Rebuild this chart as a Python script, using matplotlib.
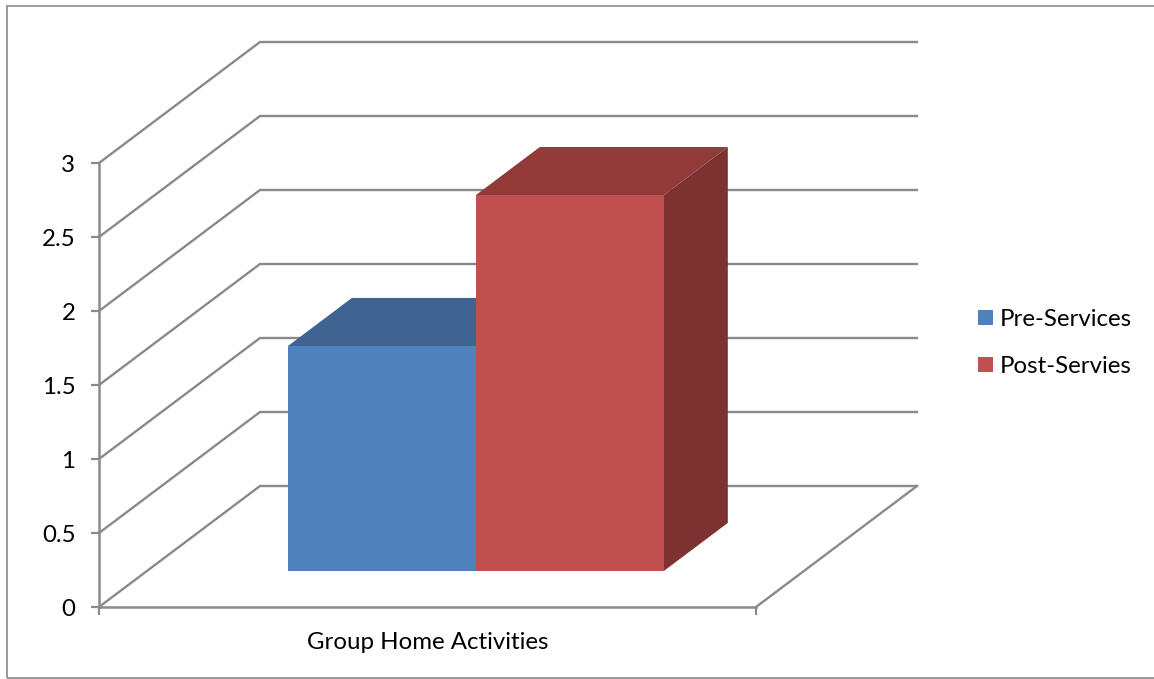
import matplotlib
matplotlib.use('Agg')
import matplotlib.pyplot as plt
from matplotlib.patches import Polygon, Patch, Rectangle

plt.rcParams['font.family'] = ['Lato', 'DejaVu Sans']

category = 'Group Home Activities'
series = ['Pre-Services', 'Post-Servies']
values = [1.52, 2.54]
colors = ['#4F81BD', '#C0504D']
top_colors = ['#3F6492', '#923A38']
side_colors = ['#375A85', '#7D3230']
y_ticks = [0, 0.5, 1, 1.5, 2, 2.5, 3]
y_labels = ['0', '0.5', '1', '1.5', '2', '2.5', '3']

W, H = 1154, 679
GREY = '#8A8A8A'
FS = 17.3

# oblique projection, depth 1 = back wall
DX = 161 / 657
DY = 121 / 148


def project(x, v, d):
    return x + d * DX, v + d * DY


fig = plt.figure(figsize=(W / 100, H / 100), dpi=100)
ax = fig.add_axes([99 / W, 1 - 607 / H, 657 / W, 444 / H])
ax.set_xlim(0, 1)
ax.set_ylim(0, 3)
ax.patch.set_visible(False)
for s in ax.spines.values():
    s.set_visible(False)
ax.spines['left'].set_visible(True)
ax.spines['bottom'].set_visible(True)
for k in ('left', 'bottom'):
    ax.spines[k].set_color(GREY)
    ax.spines[k].set_linewidth(1.8)

ax.set_yticks(y_ticks)
ax.set_yticklabels(y_labels)
ax.set_xticks([0, 1])
ax.set_xticklabels(['', ''])
ax.tick_params(axis='y', length=6, width=1.6, color=GREY, labelsize=FS, pad=11, labelcolor='black')
ax.tick_params(axis='x', length=6, width=1.6, color=GREY)
ax.text(0.5, -0.08, category, transform=ax.transAxes, fontsize=FS, ha='center', va='center', color='black')

# walls
for v in y_ticks:
    xb, yb = project(0, v, 1)
    xe, ye = project(1, v, 1)
    ax.plot([0, xb, xe], [v, yb, ye], color=GREY, lw=1.7, clip_on=False, zorder=1,
            solid_joinstyle='miter')
xb, yb = project(1, 0, 1)
ax.plot([1, xb], [0, yb], color=GREY, lw=1.7, clip_on=False, zorder=1)

# bars
bar_left = 0.2146
bar_w = 0.2861
d_front = 0.2975
d_back = 0.695
for i, v in enumerate(values):
    x0 = bar_left + i * bar_w
    x1 = x0 + bar_w
    front = [project(x0, 0, d_front), project(x1, 0, d_front), project(x1, v, d_front), project(x0, v, d_front)]
    top = [project(x0, v, d_front), project(x1, v, d_front), project(x1, v, d_back), project(x0, v, d_back)]
    side = [project(x1, 0, d_front), project(x1, 0, d_back), project(x1, v, d_back), project(x1, v, d_front)]
    z = 2 + i
    ax.add_patch(Polygon(side, closed=True, fc=side_colors[i], ec='none', clip_on=False, zorder=z))
    ax.add_patch(Polygon(top, closed=True, fc=top_colors[i], ec='none', clip_on=False, zorder=z))
    ax.add_patch(Polygon(front, closed=True, fc=colors[i], ec='none', clip_on=False, zorder=z))

handles = [Patch(fc=c, ec='none') for c in colors]
ax.legend(handles, series, loc='center left', bbox_to_anchor=(969 / W, 1 - 343 / H),
          bbox_transform=fig.transFigure, frameon=False, fontsize=FS, handlelength=0.63,
          handleheight=0.63, handletextpad=0.29, labelspacing=1.08, borderpad=0.37, borderaxespad=0)

# chart border
fig.add_artist(Rectangle((7 / W, 1 - 678 / H), (W + 5 - 7) / W, 672 / H, transform=fig.transFigure,
                         fill=False, ec=GREY, lw=1.2))

fig.savefig('out.png', dpi=100)
